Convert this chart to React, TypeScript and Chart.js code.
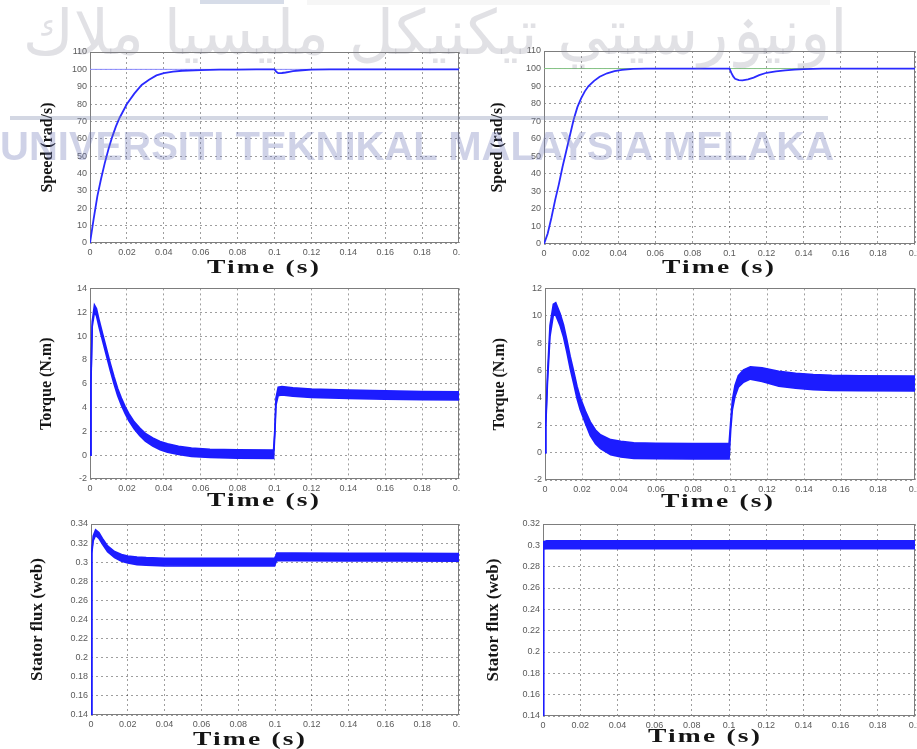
import React, { useEffect, useRef } from "react";
import { Chart, registerables } from "chart.js";

Chart.register(...registerables);

// ---- axis ticks ----
const timeTicks = [0, 0.02, 0.04, 0.06, 0.08, 0.1, 0.12, 0.14, 0.16, 0.18, 0.2];
const speedTicks = [0, 10, 20, 30, 40, 50, 60, 70, 80, 90, 100, 110];
const torqueTicksA = [-2, 0, 2, 4, 6, 8, 10, 12, 14];
const torqueTicksB = [-2, 0, 2, 4, 6, 8, 10, 12];
const fluxTicksA = [0.14, 0.16, 0.18, 0.2, 0.22, 0.24, 0.26, 0.28, 0.3, 0.32, 0.34];
const fluxTicksB = [0.14, 0.16, 0.18, 0.2, 0.22, 0.24, 0.26, 0.28, 0.3, 0.32];

const timeLabel = "Time (s)";
const speedLabel = "Speed (rad/s)";
const torqueLabel = "Torque (N.m)";
const fluxLabel = "Stator flux (web)";

// ---- speed (left: case A, right: case B) ----
const speedRef = 100;
const speedTimeA = [0, 0.002, 0.004, 0.006, 0.008, 0.01, 0.012, 0.014, 0.016, 0.018, 0.02, 0.024, 0.028, 0.032, 0.036, 0.04, 0.045, 0.05, 0.06, 0.07, 0.08, 0.09, 0.1, 0.101, 0.102, 0.104, 0.106, 0.108, 0.11, 0.115, 0.12, 0.13, 0.15, 0.2];
const speedA = [0, 14, 27, 37, 46, 54, 61, 67, 72, 76, 80, 86, 91, 94, 96.5, 97.8, 98.7, 99.2, 99.6, 99.8, 99.9, 100, 100, 98.6, 97.8, 97.9, 98.2, 98.6, 99.0, 99.5, 99.8, 100, 100, 100];
const speedTimeB = [0, 0.002, 0.004, 0.006, 0.008, 0.01, 0.012, 0.014, 0.016, 0.018, 0.02, 0.022, 0.024, 0.027, 0.03, 0.034, 0.038, 0.042, 0.048, 0.055, 0.1, 0.101, 0.102, 0.103, 0.105, 0.107, 0.11, 0.113, 0.116, 0.12, 0.125, 0.13, 0.135, 0.14, 0.15, 0.2];
const speedB = [0, 6, 15, 25, 34, 44, 53, 62, 71, 78, 83, 87, 90, 93, 95.3, 97.3, 98.5, 99.3, 99.8, 100, 100, 97.5, 95.5, 94.2, 93.4, 93.3, 93.8, 94.8, 96.2, 97.6, 98.4, 98.9, 99.4, 99.7, 100, 100];

// ---- electromagnetic torque: mean value and ripple half-width ----
const torqueTimeA = [0, 0.0005, 0.0012, 0.0024, 0.0035, 0.005, 0.007, 0.009, 0.011, 0.013, 0.015, 0.017, 0.019, 0.021, 0.024, 0.027, 0.03, 0.034, 0.038, 0.042, 0.048, 0.055, 0.065, 0.08, 0.0995, 0.1002, 0.1008, 0.102, 0.104, 0.11, 0.12, 0.14, 0.16, 0.18, 0.2];
const torqueA = [0, 6, 11, 12.3, 12.0, 11.0, 9.8, 8.6, 7.4, 6.3, 5.3, 4.5, 3.8, 3.2, 2.5, 1.95, 1.5, 1.1, 0.8, 0.6, 0.4, 0.25, 0.15, 0.1, 0.08, 2.0, 4.5, 5.35, 5.4, 5.3, 5.2, 5.12, 5.05, 5.0, 4.98];
const torqueRippleA = [0, 0.1, 0.2, 0.3, 0.3, 0.3, 0.3, 0.3, 0.3, 0.3, 0.3, 0.3, 0.3, 0.3, 0.3, 0.32, 0.33, 0.34, 0.35, 0.35, 0.35, 0.35, 0.35, 0.35, 0.35, 0.2, 0.3, 0.35, 0.35, 0.35, 0.35, 0.35, 0.35, 0.35, 0.35];
const torqueTimeB = [0, 0.0004, 0.0013, 0.0027, 0.0045, 0.0058, 0.0082, 0.01, 0.0118, 0.0136, 0.0155, 0.0173, 0.019, 0.0218, 0.0245, 0.0273, 0.03, 0.0355, 0.041, 0.048, 0.06, 0.08, 0.0995, 0.1004, 0.1013, 0.1027, 0.1045, 0.1073, 0.111, 0.1173, 0.1264, 0.1355, 0.145, 0.155, 0.17, 0.2];
const torqueB = [0, 2.0, 5.3, 8.9, 10.45, 10.5, 9.7, 8.9, 7.8, 6.6, 5.5, 4.4, 3.6, 2.6, 1.75, 1.15, 0.8, 0.4, 0.25, 0.15, 0.12, 0.1, 0.1, 2.0, 3.5, 4.5, 5.2, 5.6, 5.82, 5.7, 5.4, 5.25, 5.15, 5.1, 5.07, 5.05];
const torqueRippleB = [0, 0.1, 0.3, 0.4, 0.4, 0.45, 0.45, 0.45, 0.45, 0.45, 0.45, 0.45, 0.45, 0.45, 0.5, 0.5, 0.5, 0.55, 0.57, 0.57, 0.57, 0.57, 0.57, 0.3, 0.35, 0.4, 0.42, 0.45, 0.45, 0.5, 0.55, 0.55, 0.55, 0.55, 0.55, 0.55];

// ---- stator flux magnitude: mean value and ripple half-width ----
const fluxTimeA = [0, 0.0004, 0.0012, 0.0025, 0.0043, 0.0062, 0.009, 0.0128, 0.0166, 0.02, 0.025, 0.03, 0.04, 0.06, 0.08, 0.0998, 0.1005, 0.101, 0.11, 0.14, 0.17, 0.2];
const fluxA = [0, 0.31, 0.325, 0.331, 0.328, 0.322, 0.314, 0.308, 0.3045, 0.3028, 0.3015, 0.3008, 0.3002, 0.3, 0.3, 0.3, 0.3035, 0.3055, 0.3057, 0.3054, 0.3052, 0.305];
const fluxRippleA = [0, 0.001, 0.0025, 0.003, 0.003, 0.003, 0.003, 0.0032, 0.0035, 0.0037, 0.004, 0.004, 0.004, 0.004, 0.004, 0.004, 0.0035, 0.004, 0.004, 0.004, 0.004, 0.004];
const fluxTimeB = [0, 0.0003, 0.002, 0.05, 0.1, 0.15, 0.2];
const fluxB = [0, 0.3, 0.3005, 0.3005, 0.3005, 0.3005, 0.3005];
const fluxRippleB = [0, 0.0035, 0.0037, 0.0037, 0.0037, 0.0037, 0.0037];

const BLUE = "#1c1cff";
const SERIF = '"Liberation Serif", "Times New Roman", serif';
const SANS = '"Liberation Sans", Arial, sans-serif';

type XY = { x: number; y: number };
const pts = (t: number[], v: number[]): XY[] => t.map((x, i) => ({ x, y: v[i] }));

// trace with switching ripple, drawn as a filled envelope
function rippleBand(t: number[], v: number[], r: number[]) {
  return [
    {
      data: t.map((x, i) => ({ x, y: v[i] + r[i] })),
      borderColor: BLUE,
      backgroundColor: BLUE,
      borderWidth: 1.6,
      fill: "+1",
    },
    {
      data: t.map((x, i) => ({ x, y: v[i] - r[i] })),
      borderColor: BLUE,
      backgroundColor: BLUE,
      borderWidth: 1.6,
      fill: false,
    },
  ];
}

function speedTraces(t: number[], v: number[], refColor: string) {
  return [
    { data: pts(t, v), borderColor: "#2a2aff", borderWidth: 1.8, fill: false },
    {
      data: [
        { x: 0, y: speedRef },
        { x: 0.2, y: speedRef },
      ],
      borderColor: refColor,
      borderWidth: 1,
      fill: false,
    },
  ];
}

type Panel = {
  id: string;
  col: 0 | 1;
  box: { left: number; top: number; width: number; height: number };
  area: { l: number; t: number; r: number; b: number };
  yTicks: number[];
  yLabel: string;
  yLabelX: number;
  yFont: number;
  timeX: number;
  timeY: number;
  datasets: any[];
};

const panels: Panel[] = [
  {
    id: "speedA", col: 0,
    box: { left: 0, top: 40, width: 470, height: 245 },
    area: { l: 90, t: 52, r: 459, b: 243 },
    yTicks: speedTicks, yLabel: speedLabel, yLabelX: 48, yFont: 16,
    timeX: 264, timeY: 268,
    datasets: speedTraces(speedTimeA, speedA, "#8a8aff"),
  },
  {
    id: "speedB", col: 1,
    box: { left: 460, top: 40, width: 470, height: 245 },
    area: { l: 544, t: 51, r: 915, b: 244 },
    yTicks: speedTicks, yLabel: speedLabel, yLabelX: 498, yFont: 16,
    timeX: 719, timeY: 268,
    datasets: speedTraces(speedTimeB, speedB, "#86c486"),
  },
  {
    id: "torqueA", col: 0,
    box: { left: 0, top: 280, width: 470, height: 235 },
    area: { l: 90, t: 286, r: 459, b: 479 },
    yTicks: torqueTicksA, yLabel: torqueLabel, yLabelX: 47, yFont: 16,
    timeX: 264, timeY: 501,
    datasets: rippleBand(torqueTimeA, torqueA, torqueRippleA),
  },
  {
    id: "torqueB", col: 1,
    box: { left: 460, top: 280, width: 470, height: 235 },
    area: { l: 545, t: 287, r: 915, b: 480 },
    yTicks: torqueTicksB, yLabel: torqueLabel, yLabelX: 500, yFont: 16,
    timeX: 718, timeY: 502,
    datasets: rippleBand(torqueTimeB, torqueB, torqueRippleB),
  },
  {
    id: "fluxA", col: 0,
    box: { left: 0, top: 515, width: 470, height: 234 },
    area: { l: 91, t: 524, r: 459, b: 715 },
    yTicks: fluxTicksA, yLabel: fluxLabel, yLabelX: 38, yFont: 17,
    timeX: 250, timeY: 740,
    datasets: rippleBand(fluxTimeA, fluxA, fluxRippleA),
  },
  {
    id: "fluxB", col: 1,
    box: { left: 460, top: 515, width: 470, height: 234 },
    area: { l: 543, t: 524, r: 915, b: 716 },
    yTicks: fluxTicksB, yLabel: fluxLabel, yLabelX: 494, yFont: 17,
    timeX: 705, timeY: 737,
    datasets: rippleBand(fluxTimeB, fluxB, fluxRippleB),
  },
];

// solid box around the plotting area
const framePlugin = {
  id: "frame",
  beforeDatasetsDraw(chart: any) {
    const { ctx, chartArea: a } = chart;
    ctx.save();
    ctx.strokeStyle = "#7d7d7d";
    ctx.lineWidth = 1;
    ctx.strokeRect(
      Math.round(a.left) + 0.5,
      Math.round(a.top) + 0.5,
      Math.round(a.right - a.left) - 1,
      Math.round(a.bottom - a.top) - 1
    );
    ctx.restore();
  },
};

// wide serif "Time (s)" caption under each time axis
const timeCaptionPlugin = {
  id: "timeCaption",
  afterDraw(chart: any, _args: any, opts: any) {
    const ctx = chart.ctx;
    ctx.save();
    ctx.font = `bold 19px ${SERIF}`;
    ctx.fillStyle = "#151515";
    ctx.textAlign = "center";
    ctx.textBaseline = "middle";
    ctx.translate(opts.x, opts.y);
    ctx.scale(1.45, 1);
    (ctx as any).letterSpacing = "1.5px";
    ctx.fillText(opts.text, 0, 0);
    ctx.restore();
  },
};

function buildConfig(p: Panel): any {
  const { box, area } = p;
  const yMin = p.yTicks[0];
  const yMax = p.yTicks[p.yTicks.length - 1];
  const lineHeight = p.yFont * 1.2;
  const tickFont = { family: SANS, size: 9 };
  const grid = { color: "rgba(0,0,0,0.38)", lineWidth: 1, drawTicks: false };
  const border = { display: false, dash: [2, 3] };
  return {
    type: "line",
    data: { datasets: p.datasets },
    plugins: [framePlugin, timeCaptionPlugin],
    options: {
      animation: false,
      responsive: false,
      maintainAspectRatio: false,
      devicePixelRatio: 1,
      parsing: false,
      normalized: true,
      layout: {
        padding: {
          left: 0,
          top: area.t - box.top,
          right: box.left + box.width - area.r,
          bottom: 0,
        },
      },
      elements: { point: { radius: 0 }, line: { tension: 0 } },
      plugins: {
        legend: { display: false },
        tooltip: { enabled: false },
        timeCaption: {
          text: timeLabel,
          x: p.timeX - box.left,
          y: p.timeY - box.top,
        },
      },
      scales: {
        x: {
          type: "linear",
          min: 0,
          max: 0.2,
          afterBuildTicks: (s: any) => {
            s.ticks = timeTicks.map((value) => ({ value }));
          },
          afterFit: (s: any) => {
            s.height = box.top + box.height - area.b;
          },
          ticks: {
            font: tickFont,
            color: "#5a5a5a",
            padding: 4,
            maxRotation: 0,
            autoSkip: false,
            callback: (v: number) => String(v),
          },
          grid,
          border,
        },
        y: {
          type: "linear",
          min: yMin,
          max: yMax,
          afterBuildTicks: (s: any) => {
            s.ticks = p.yTicks.map((value) => ({ value }));
          },
          afterFit: (s: any) => {
            s.width = area.l - box.left;
          },
          ticks: {
            font: tickFont,
            color: "#5a5a5a",
            padding: 3,
            autoSkip: false,
            callback: (v: number) => String(v),
          },
          grid,
          border,
          title: {
            display: true,
            text: p.yLabel,
            color: "#151515",
            font: { family: SERIF, size: p.yFont, weight: "bold" },
            padding: { top: p.yLabelX - box.left - lineHeight / 2, bottom: 0 },
          },
        },
      },
    },
  };
}

function PanelChart({ p }: { p: Panel }) {
  const ref = useRef<HTMLCanvasElement>(null);
  useEffect(() => {
    if (!ref.current) return;
    const chart = new Chart(ref.current, buildConfig(p));
    return () => chart.destroy();
  }, [p]);
  const colLeft = p.col === 0 ? 0 : 460;
  return (
    <canvas
      ref={ref}
      width={p.box.width}
      height={p.box.height}
      style={{
        position: "absolute",
        left: p.box.left - colLeft,
        top: p.box.top,
        width: p.box.width,
        height: p.box.height,
      }}
    />
  );
}

const jawiText = "اونيۏرسيتي تيكنيكل مليسيا ملاك";
const latinText = "UNIVERSITI TEKNIKAL MALAYSIA MELAKA";

export default function App() {
  const colStyle = (left: number, width: number): React.CSSProperties => ({
    position: "absolute",
    left,
    top: 0,
    width,
    height: 749,
    overflow: "hidden",
  });
  return (
    <div
      style={{
        position: "absolute",
        left: 0,
        top: 0,
        width: 917,
        height: 749,
        overflow: "hidden",
        background: "#ffffff",
      }}
    >
      <div style={colStyle(0, 460)}>
        {panels.filter((p) => p.col === 0).map((p) => (
          <PanelChart key={p.id} p={p} />
        ))}
      </div>
      <div style={colStyle(460, 457)}>
        {panels.filter((p) => p.col === 1).map((p) => (
          <PanelChart key={p.id} p={p} />
        ))}
      </div>

      {/* university watermark */}
      <div style={{ position: "absolute", inset: 0, pointerEvents: "none" }}>
        <div style={{ position: "absolute", left: 200, top: 0, width: 84, height: 4, background: "rgba(120,140,180,0.3)" }} />
        <div style={{ position: "absolute", left: 307, top: 0, width: 523, height: 5, background: "rgba(0,0,0,0.035)" }} />
        <div
          style={{
            position: "absolute",
            left: -5,
            top: -4,
            width: 880,
            textAlign: "center",
            direction: "rtl",
            whiteSpace: "nowrap",
            fontFamily: '"DejaVu Sans", sans-serif',
            fontSize: 62,
            color: "rgba(130,130,145,0.24)",
          }}
        >
          {jawiText}
        </div>
        <div style={{ position: "absolute", left: 10, top: 116, width: 818, height: 4, background: "rgba(130,140,175,0.35)" }} />
        <div
          style={{
            position: "absolute",
            left: 0,
            top: 123,
            whiteSpace: "nowrap",
            fontFamily: SANS,
            fontWeight: "bold",
            fontSize: 40,
            lineHeight: "46px",
            color: "rgba(105,115,180,0.32)",
          }}
        >
          {latinText}
        </div>
      </div>
    </div>
  );
}
